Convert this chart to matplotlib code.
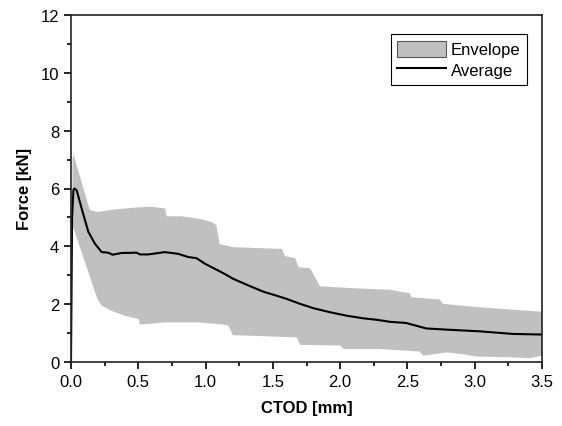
import numpy as np
from matplotlib import pyplot as plt
from matplotlib.ticker import MultipleLocator

# envelope upper / lower bounds and average curve (CTOD mm, force kN)
upper_x = [0.0, 0.012, 0.017, 0.14, 0.20, 0.33, 0.48, 0.59, 0.70, 0.71, 0.82, 0.97, 1.045, 1.08, 1.105,
           1.21, 1.567, 1.59, 1.666, 1.69, 1.777, 1.85, 2.10, 2.37, 2.47, 2.517, 2.53, 2.74, 2.765,
           3.04, 3.285, 3.5]
upper_y = [0.0, 7.0, 7.2, 5.25, 5.19, 5.28, 5.34, 5.37, 5.31, 5.04, 5.04, 4.94, 4.84, 4.73, 4.08,
           3.97, 3.91, 3.66, 3.59, 3.28, 3.24, 2.62, 2.55, 2.50, 2.41, 2.39, 2.24, 2.16, 2.01,
           1.89, 1.81, 1.74]
lower_x = [0.0, 0.01, 0.196, 0.228, 0.30, 0.40, 0.505, 0.512, 0.70, 0.95, 1.14, 1.17, 1.203, 1.678,
           1.703, 2.0, 2.025, 2.295, 2.59, 2.616, 2.79, 2.91, 3.01, 3.285, 3.41, 3.5]
lower_y = [0.0, 4.75, 2.18, 1.95, 1.77, 1.60, 1.48, 1.29, 1.37, 1.37, 1.29, 1.26, 0.93, 0.85,
           0.59, 0.57, 0.45, 0.45, 0.36, 0.22, 0.33, 0.27, 0.19, 0.16, 0.13, 0.22]
avg_x = [0.0, 0.008, 0.018, 0.025, 0.042, 0.079, 0.129, 0.178, 0.228, 0.277, 0.309, 0.376, 0.488,
         0.512, 0.574, 0.698, 0.797, 0.871, 0.933, 0.995, 1.07, 1.14, 1.208, 1.332, 1.43, 1.53,
         1.604, 1.703, 1.802, 1.926, 2.05, 2.173, 2.272, 2.37, 2.49, 2.64, 2.79, 3.04, 3.285, 3.5]
avg_y = [0.0, 5.0, 5.95, 6.0, 5.94, 5.31, 4.5, 4.09, 3.8, 3.78, 3.71, 3.77, 3.78,
         3.72, 3.72, 3.8, 3.74, 3.63, 3.59, 3.40, 3.22, 3.05, 2.87, 2.62, 2.43, 2.29,
         2.18, 2.01, 1.86, 1.72, 1.60, 1.51, 1.46, 1.39, 1.35, 1.16, 1.12, 1.06, 0.97, 0.95]

plt.rcParams['font.family'] = ['Liberation Sans', 'DejaVu Sans']

fig = plt.figure(figsize=(5.62, 4.27), dpi=100)
ax = fig.add_axes([71/562, 1-363/427, 471/562, 347/427])

poly_x = np.concatenate([upper_x, lower_x[::-1]])
poly_y = np.concatenate([upper_y, lower_y[::-1]])
ax.fill(poly_x, poly_y, color='#c0c0c0', lw=0, label='Envelope')
ax.plot(avg_x, avg_y, color='black', lw=1.5, label='Average')

ax.set_xlim(0, 3.5)
ax.set_ylim(0, 12)
ax.xaxis.set_major_locator(MultipleLocator(0.5))
ax.xaxis.set_minor_locator(MultipleLocator(0.25))
ax.yaxis.set_major_locator(MultipleLocator(2))
ax.yaxis.set_minor_locator(MultipleLocator(1))
ax.xaxis.set_major_formatter(plt.FuncFormatter(lambda v, p: '%.1f' % v))
ax.tick_params(which='both', direction='out', top=False, right=False, labelsize=12, width=1.2)
ax.tick_params(which='major', length=5)
ax.tick_params(which='minor', length=3)
for s in ax.spines.values():
    s.set_linewidth(1.2)
    s.set_color('#222222')

ax.set_xlabel('CTOD [mm]', fontsize=12, fontweight='bold', labelpad=8)
ax.set_ylabel('Force [kN]', fontsize=12, fontweight='bold', labelpad=6)

h, l = ax.get_legend_handles_labels()
h[0].set_edgecolor('#555555')
h[0].set_linewidth(0.8)
leg = ax.legend(loc='upper right', bbox_to_anchor=(527/562, 1-35/427), bbox_transform=fig.transFigure,
                borderaxespad=0, fancybox=False, edgecolor='black', framealpha=1, fontsize=12,
                handlelength=2.9, handleheight=1.1, handletextpad=0.3, labelspacing=0.25, borderpad=0.4)
leg.get_frame().set_linewidth(0.8)
h[0].set_edgecolor('none')

fig.savefig('out.png', dpi=100)
